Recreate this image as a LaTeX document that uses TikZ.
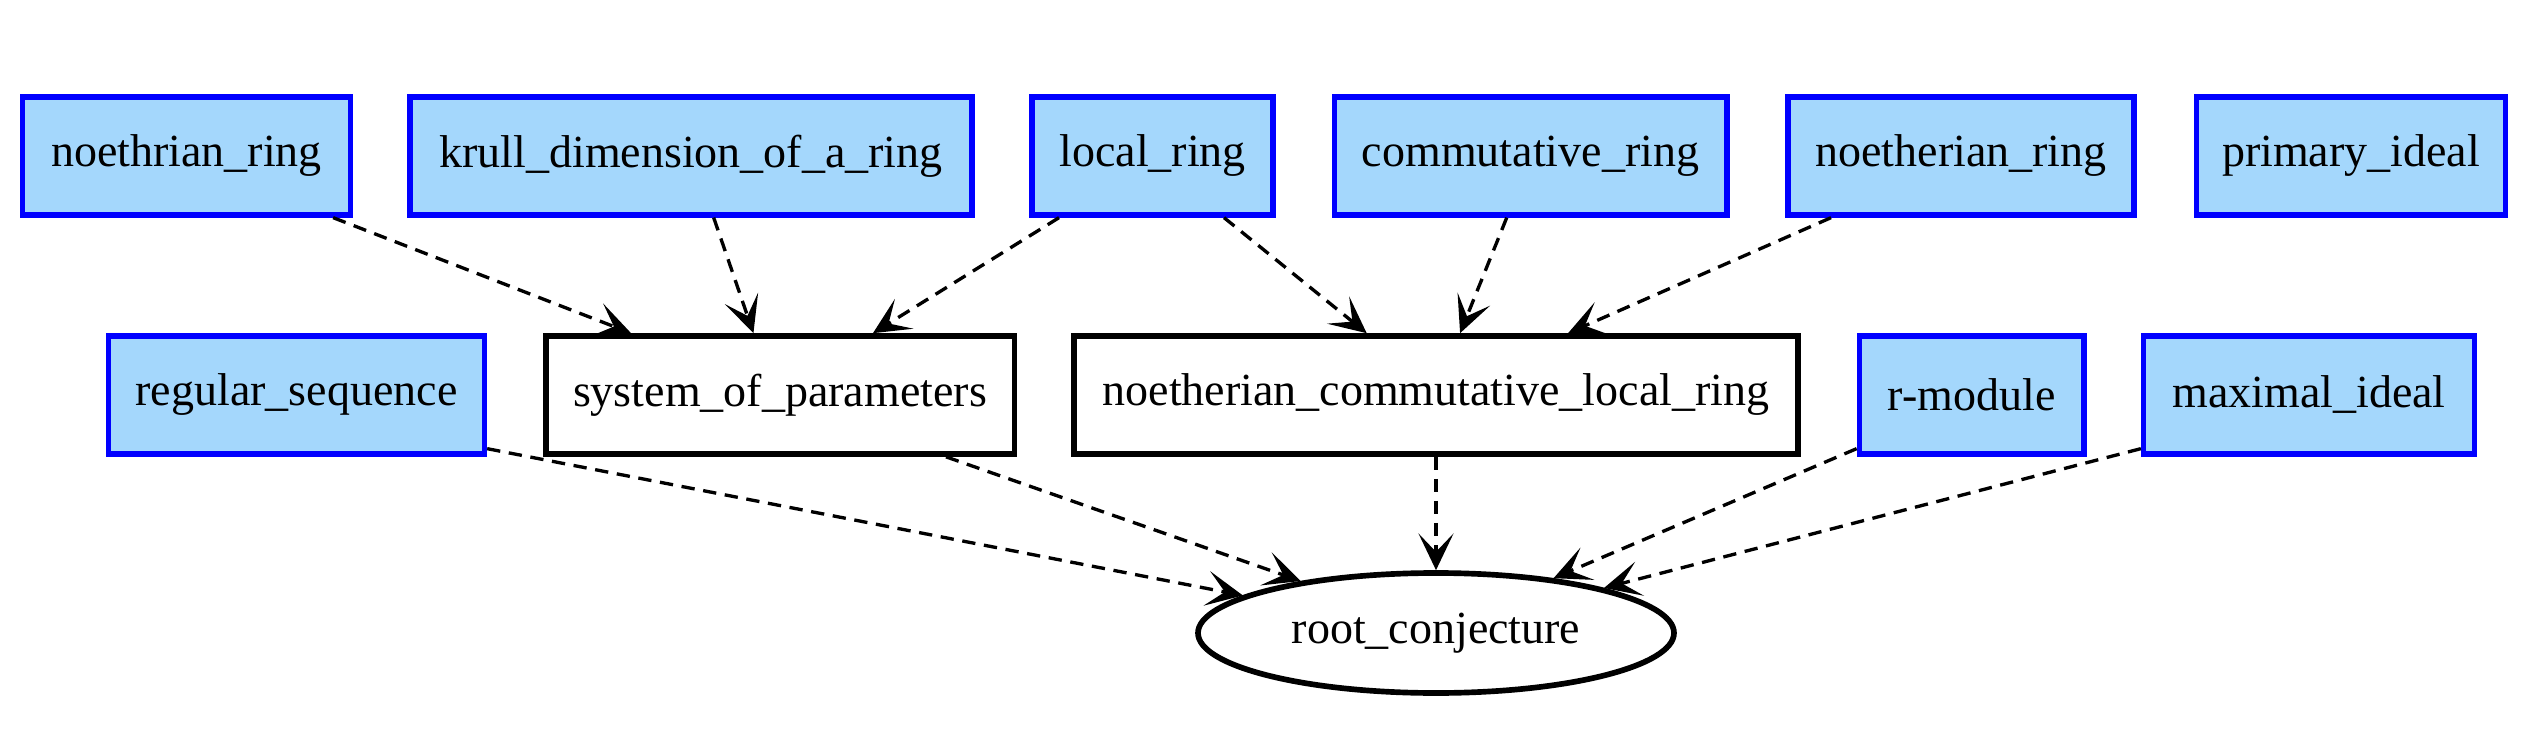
\documentclass[tikz,border=0pt]{standalone}
\usepackage{fontspec}
\setmainfont{Liberation Serif}
\usetikzlibrary{arrows.meta,calc,shapes.geometric}
\definecolor{boxfill}{RGB}{164,215,252}
\definecolor{boxline}{RGB}{0,0,255}
\begin{document}
\begin{tikzpicture}[x=0.3pt,y=0.3pt,
  every node/.style={font=\fontsize{13.8}{16}\selectfont, inner sep=0pt, minimum height=35.4pt},
  leaf/.style={draw=boxline, fill=boxfill, line width=1.6pt, rectangle},
  mid/.style={draw=black, fill=white, line width=1.7pt, rectangle},
  goal/.style={draw=black, fill=white, line width=1.7pt, ellipse, minimum width=142.8pt, minimum height=36pt},
  dep/.style={draw=black, line width=1pt, dash pattern=on 4pt off 2.6pt,
     -{Stealth[length=11pt, width=10.5pt, inset=5.5pt]}}
]
\useasboundingbox (0,0) rectangle (2533,744);
% row 1
\node[leaf, minimum width=98.4pt] (nr) at (186.5,588) {noethrian\_ring};
\node[leaf, minimum width=168.6pt] (kd) at (691,588) {krull\_dimension\_of\_a\_ring};
\node[leaf, minimum width=72.3pt] (lr) at (1152.6,588) {local\_ring};
\node[leaf, minimum width=117.8pt] (cr) at (1530.6,588) {commutative\_ring};
\node[leaf, minimum width=103.8pt] (ner) at (1961,588) {noetherian\_ring};
\node[leaf, minimum width=92.6pt] (pi) at (2351,588) {primary\_ideal};
% row 2
\node[leaf, minimum width=112.8pt] (rs) at (296.5,349) {regular\_sequence};
\node[mid, minimum width=140.6pt] (sop) at (780,349) {system\_of\_parameters};
\node[mid, minimum width=217.2pt] (nclr) at (1436,349) {noetherian\_commutative\_local\_ring};
\node[leaf, minimum width=67.4pt] (rm) at (1971.6,349) {r-module};
\node[leaf, minimum width=99.3pt] (mi) at (2309,349) {maximal\_ideal};
% root
\node[goal] (root) at (1436,111) {root\_conjecture};
% edges row1 -> row2
\draw[dep] ($(nr.south west)!0.94!(nr.south east)$) -- ($(sop.north west)!0.186!(sop.north east)$);
\draw[dep] ($(kd.south west)!0.54!(kd.south east)$) -- ($(sop.north west)!0.444!(sop.north east)$);
\draw[dep] ($(lr.south west)!0.12!(lr.south east)$) -- ($(sop.north west)!0.696!(sop.north east)$);
\draw[dep] ($(lr.south west)!0.79!(lr.south east)$) -- ($(nclr.north west)!0.405!(nclr.north east)$);
\draw[dep] ($(cr.south west)!0.44!(cr.south east)$) -- ($(nclr.north west)!0.533!(nclr.north east)$);
\draw[dep] ($(ner.south west)!0.13!(ner.south east)$) -- ($(nclr.north west)!0.681!(nclr.north east)$);
% edges row2 -> root
\draw[dep] ($(rs.south east)+(0,8)$) -- (root.169);
\draw[dep] ($(sop.south west)!0.85!(sop.south east)$) -- (root.159);
\draw[dep] (nclr.south) -- (root.north);
\draw[dep] ($(rm.south west)+(0,8)$) -- (root.25);
\draw[dep] ($(mi.south west)+(0,8)$) -- (root.15);
\end{tikzpicture}
\end{document}
